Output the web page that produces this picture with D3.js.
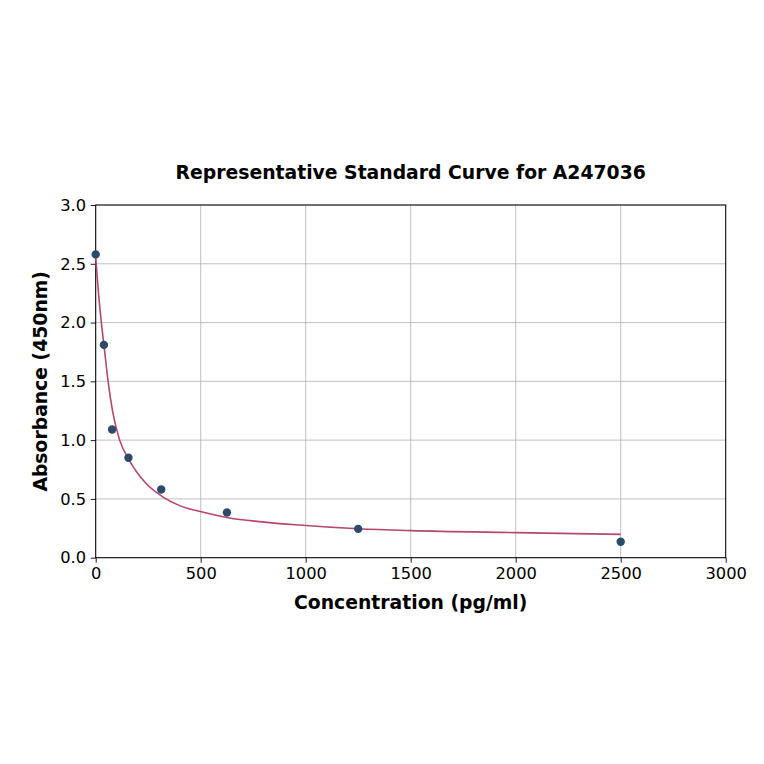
<!DOCTYPE html>
<html><head><meta charset="utf-8">
<script src="https://cdn.jsdelivr.net/npm/d3@7"></script>
<style>body{margin:0;background:#fff}svg{display:block}text{font-family:"DejaVu Sans",sans-serif}</style>
</head><body>
<svg id="c" width="764" height="764"></svg>
<script>
const titleText = "Representative Standard Curve for A247036";
const xLabel = "Concentration (pg/ml)";
const yLabel = "Absorbance (450nm)";
const pointConc = [0, 39, 78, 156, 312, 625, 1250, 2500];
const pointAbs  = [2.58, 1.81, 1.09, 0.85, 0.58, 0.385, 0.245, 0.136];
const curveConc = [0, 14, 27, 43, 59, 81, 114, 159, 238, 317, 397, 503, 635, 794, 952, 1250, 1500, 2000, 2500];
const curveAbs  = [2.55, 2.235, 2.0, 1.75, 1.5, 1.24, 1.0, 0.833, 0.635, 0.52, 0.445, 0.39, 0.338, 0.305, 0.28, 0.246, 0.23, 0.213, 0.198];
const xTicks = [0, 500, 1000, 1500, 2000, 2500, 3000];
const yTicks = [0.0, 0.5, 1.0, 1.5, 2.0, 2.5, 3.0];

const svg = d3.select("#c");
const L = 95.7, R = 725.7, T = 205, B = 557.7;
const x = d3.scaleLinear().domain([0, 3000]).range([L, R]);
const y = d3.scaleLinear().domain([0, 3]).range([B, T]);

// grid
svg.append("g").selectAll("line").data(xTicks).join("line")
  .attr("x1", d => x(d)).attr("x2", d => x(d)).attr("y1", T).attr("y2", B)
  .attr("stroke", "#b0b0b0").attr("stroke-width", 0.8);
svg.append("g").selectAll("line").data(yTicks).join("line")
  .attr("y1", d => y(d)).attr("y2", d => y(d)).attr("x1", L).attr("x2", R)
  .attr("stroke", "#b0b0b0").attr("stroke-width", 0.8);

// axes
const xa = svg.append("g").attr("transform", `translate(0,${B})`)
  .call(d3.axisBottom(x).tickValues(xTicks).tickFormat(d3.format("d")).tickSize(5).tickPadding(4.6));
const ya = svg.append("g").attr("transform", `translate(${L},0)`)
  .call(d3.axisLeft(y).tickValues(yTicks).tickFormat(d3.format(".1f")).tickSize(5).tickPadding(4.6));
[xa, ya].forEach(a => {
  a.attr("font-size", 16.3).attr("font-family", "DejaVu Sans");
  a.select(".domain").remove();
  a.selectAll("text").attr("font-size", 16.3).attr("fill", "#000");
  a.selectAll("line").attr("stroke", "#000").attr("stroke-width", 0.9);
});

// frame
svg.append("rect").attr("x", L).attr("y", T).attr("width", R - L).attr("height", B - T)
  .attr("fill", "none").attr("stroke", "#000").attr("stroke-width", 1);

// curve
const curve = curveConc.map((c, i) => [c, curveAbs[i]]);
svg.append("path").datum(curve)
  .attr("d", d3.line().x(d => x(d[0])).y(d => y(d[1])).curve(d3.curveMonotoneX))
  .attr("fill", "none").attr("stroke", "#b5476b").attr("stroke-width", 1.6);

// points
svg.append("g").selectAll("circle").data(pointConc.map((c, i) => [c, pointAbs[i]])).join("circle")
  .attr("cx", d => x(d[0])).attr("cy", d => y(d[1])).attr("r", 4.2)
  .attr("fill", "#2c4a6b");

// titles
svg.append("text").attr("x", 410.7).attr("y", 179).attr("text-anchor", "middle")
  .attr("font-size", 18.8).attr("font-weight", "bold").text(titleText);
svg.append("text").attr("x", 410.7).attr("y", 609).attr("text-anchor", "middle")
  .attr("font-size", 18.8).attr("font-weight", "bold").text(xLabel);
svg.append("text").attr("transform", `translate(47,${(T + B) / 2}) rotate(-90)`).attr("text-anchor", "middle")
  .attr("font-size", 18.8).attr("font-weight", "bold").text(yLabel);
</script>
</body></html>
